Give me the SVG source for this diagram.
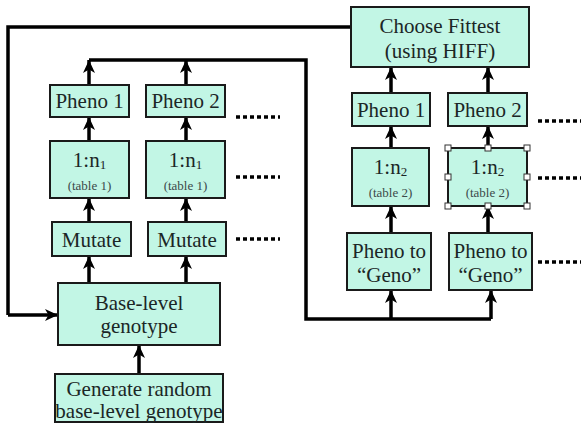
<svg xmlns="http://www.w3.org/2000/svg" width="581" height="432" viewBox="0 0 581 432">
<defs>
<marker id="ah" markerUnits="userSpaceOnUse" markerWidth="14" markerHeight="14" viewBox="0 0 14 14" refX="13" refY="7" orient="auto">
<path d="M0,1 L13,7 L0,13 L3.5,7 z" fill="#000"/>
</marker>
<style>
.box{fill:#c2f6e5;stroke:#1a1a1a;stroke-width:2}
.t{font-family:'Liberation Serif','DejaVu Serif','Times New Roman',serif;font-size:21px;fill:#1b2626;text-anchor:middle}
.s{font-family:'Liberation Serif','DejaVu Serif','Times New Roman',serif;font-size:13px;fill:#3c4a4a;text-anchor:middle}
.c{fill:none;stroke:#000;stroke-width:3.5}
.a{fill:none;stroke:#000;stroke-width:3.5;marker-end:url(#ah)}
.d{fill:none;stroke:#000;stroke-width:3.5;stroke-dasharray:4 3}
.h{fill:#fff;stroke:#333;stroke-width:1}
</style>
</defs>
<rect width="581" height="432" fill="#fff"/>
<g id="connectors">
<path class="c" d="M351,27 H8 V315"/>
<path class="a" d="M8,315 H58"/>
<path class="c" d="M89,60 H306 V319 H491"/>
<path class="a" d="M89,85 V60"/>
<path class="a" d="M186,85 V60"/>
<path class="a" d="M89,141 V117"/>
<path class="a" d="M186,141 V117"/>
<path class="a" d="M89,222 V198"/>
<path class="a" d="M186,222 V198"/>
<path class="a" d="M89,283 V256"/>
<path class="a" d="M186,283 V256"/>
<path class="a" d="M139,374 V345"/>
<path class="a" d="M391,319 V290"/>
<path class="a" d="M491,319 V290"/>
<path class="a" d="M391,233 V206"/>
<path class="a" d="M488,233 V206"/>
<path class="a" d="M391,148 V126"/>
<path class="a" d="M488,148 V126"/>
<path class="a" d="M391,93 V67"/>
<path class="a" d="M488,93 V67"/>
<path class="d" d="M236,117 H280 M236,177 H280 M236,239 H280"/>
<path class="d" d="M538,121 H581 M538,178 H581 M538,262 H581"/>
</g>
<g id="pheno1L"><rect class="box" x="50" y="85" width="79" height="32"/><text class="t" x="89.5" y="108">Pheno 1</text></g>
<g id="pheno2L"><rect class="box" x="146" y="85" width="79" height="32"/><text class="t" x="185.5" y="108">Pheno 2</text></g>
<g id="map1L"><rect class="box" x="50" y="141" width="79" height="57"/><text class="t" x="89.5" y="167">1:n<tspan font-size="13" dy="2">1</tspan></text><text class="s" x="89.5" y="190">(table 1)</text></g>
<g id="map2L"><rect class="box" x="146" y="141" width="79" height="57"/><text class="t" x="185.5" y="167">1:n<tspan font-size="13" dy="2">1</tspan></text><text class="s" x="185.5" y="190">(table 1)</text></g>
<g id="mutate1"><rect class="box" x="52" y="222" width="79" height="34"/><text class="t" x="91.5" y="247">Mutate</text></g>
<g id="mutate2"><rect class="box" x="148" y="222" width="78" height="34"/><text class="t" x="187" y="247">Mutate</text></g>
<g id="base"><rect class="box" x="58" y="283" width="162" height="62"/><text class="t" x="139" y="310">Base-level</text><text class="t" x="139" y="333">genotype</text></g>
<g id="generate"><rect class="box" x="55" y="374" width="168" height="48"/><text class="t" x="139" y="396">Generate random</text><text class="t" x="139" y="418">base-level genotype</text></g>
<g id="choose"><rect class="box" x="351" y="7" width="178" height="60"/><text class="t" x="440" y="33">Choose Fittest</text><text class="t" x="440" y="58">(using HIFF)</text></g>
<g id="pheno1R"><rect class="box" x="352" y="93" width="78" height="33"/><text class="t" x="391" y="117">Pheno 1</text></g>
<g id="pheno2R"><rect class="box" x="448" y="93" width="79" height="33"/><text class="t" x="487.5" y="117">Pheno 2</text></g>
<g id="map1R"><rect class="box" x="352" y="148" width="77" height="58"/><text class="t" x="390.5" y="174">1:n<tspan font-size="13" dy="2">2</tspan></text><text class="s" x="390.5" y="197">(table 2)</text></g>
<g id="map2R"><rect class="box" x="448" y="148" width="79" height="58"/><text class="t" x="487.5" y="174">1:n<tspan font-size="13" dy="2">2</tspan></text><text class="s" x="487.5" y="197">(table 2)</text>
<rect class="h" x="445" y="145" width="6" height="6"/><rect class="h" x="485" y="145" width="6" height="6"/><rect class="h" x="524" y="145" width="6" height="6"/>
<rect class="h" x="445" y="174" width="6" height="6"/><rect class="h" x="524" y="174" width="6" height="6"/>
<rect class="h" x="445" y="203" width="6" height="6"/><rect class="h" x="485" y="203" width="6" height="6"/><rect class="h" x="524" y="203" width="6" height="6"/></g>
<g id="p2g1"><rect class="box" x="347" y="233" width="84" height="57"/><text class="t" x="389" y="258">Pheno to</text><text class="t" x="389" y="282">“Geno”</text></g>
<g id="p2g2"><rect class="box" x="449" y="233" width="83" height="57"/><text class="t" x="490.5" y="258">Pheno to</text><text class="t" x="490.5" y="282">“Geno”</text></g>
</svg>
